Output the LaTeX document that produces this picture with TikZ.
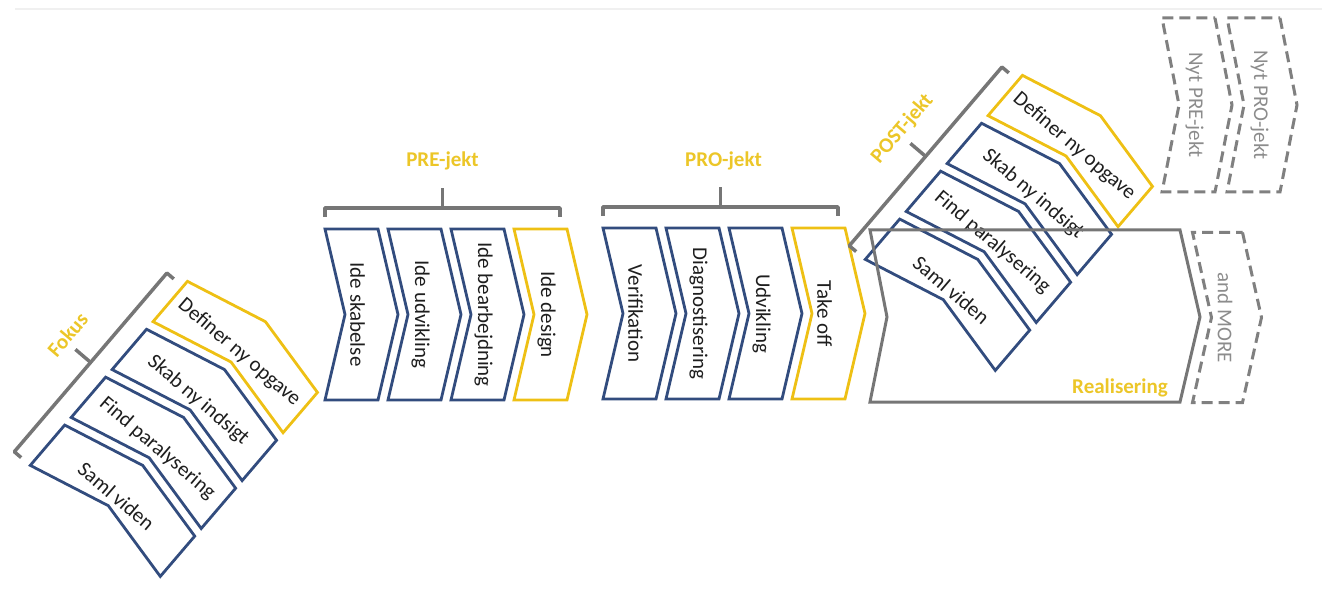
\documentclass[tikz,border=0pt]{standalone}
\usepackage{fontspec}
\setmainfont{Carlito}
\definecolor{cblue}{RGB}{50,76,126}
\definecolor{cyellow}{RGB}{238,192,20}
\definecolor{clabel}{RGB}{236,198,40}
\definecolor{cgray}{RGB}{118,118,118}
\definecolor{cdash}{RGB}{128,128,128}
\definecolor{cdtext}{RGB}{140,140,140}
\definecolor{ctext}{RGB}{30,30,30}
\tikzset{
  chevblue/.style={draw=cblue, line width=2.8pt},
  chevyellow/.style={draw=cyellow, line width=2.8pt},
  chevtext/.style={font=\fontsize{21}{25}\selectfont, text=ctext, inner sep=0pt},
  grouplabel/.style={font=\bfseries\fontsize{21}{25}\selectfont, text=clabel, inner sep=0pt},
  bracketline/.style={draw=cgray, line width=3.5pt, line join=round},
  realshape/.style={draw=cgray, line width=3pt},
  dashchev/.style={draw=cdash, line width=3pt, dash pattern=on 11pt off 6pt},
  dashtext/.style={font=\fontsize{21}{25}\selectfont, text=cdtext, inner sep=0pt},
}
% #1 style, #2 center, #3 angle, #4 half-length, #5 half-width ; protrusion \chP
\newcommand{\chevshape}[5]{%
  \draw[#1, shift={#2}, rotate=#3] (-#4,#5) -- (0,#5+\chP) -- (#4,#5) -- (#4,-#5) -- (0,-#5+\chP) -- (-#4,-#5) -- cycle;}
% #1 origin, #2 angle, #3 label, #4 name prefix, #5..#8 texts, #9 label position
\newcommand{\chevgroup}[9]{%
  \begin{scope}[shift={#1}, rotate=#2]
    \def\chP{20}
    \chevshape{chevblue}{(0,0)}{0}{85.5}{26.5}
    \node[chevtext, rotate=#2] (#4a) at (0,6) {#5};
    \chevshape{chevblue}{(0,63)}{0}{85.5}{26.5}
    \node[chevtext, rotate=#2] (#4b) at (0,69) {#6};
    \chevshape{chevblue}{(0,126)}{0}{85.5}{26.5}
    \node[chevtext, rotate=#2] (#4c) at (0,132) {#7};
    \chevshape{chevyellow}{(0,189)}{0}{85.5}{26.5}
    \node[chevtext, rotate=#2] (#4d) at (0,195) {#8};
    \draw[bracketline] (-97.5,-26.5) -- (-106.5,-26.5) -- (-106.5,208.5) -- (-97.5,208.5);
    \draw[bracketline] (-106.5,91) -- (-126.5,91);
    \node[grouplabel, rotate=#2+90] (#4l) at #9 {#3};
  \end{scope}}
\begin{document}
\begin{tikzpicture}[x=1pt, y=1pt]
\useasboundingbox (0,0) rectangle (1322,590);
\draw[black!6, line width=2pt] (15,581) -- (1322,581);

\chevgroup{(112.5,89.25)}{-40.5}{Fokus}{fok}{Saml viden}{Find paralysering}{Skab ny indsigt}{Definer ny opgave}{(-142,97)}
\chevgroup{(351.5,275.5)}{-90}{PRE-jekt}{pre}{Ide skabelse}{Ide udvikling}{Ide bearbejdning}{Ide design}{(-154,91)}
\chevgroup{(629.5,276.5)}{-90}{PRO-jekt}{pro}{Verifikation}{Diagnostisering}{Udvikling}{Take off}{(-153,94)}
\chevgroup{(947.5,295.25)}{-40.5}{POST-jekt}{post}{Saml viden}{Find paralysering}{Skab ny indsigt}{Definer ny opgave}{(-142,97)}

% Realisering
\draw[realshape] (870,360) -- (1180,360) -- (1200,273) -- (1180,188) -- (870,188) -- (887,273) -- cycle;
\node[grouplabel, anchor=base east] (real) at (1168,197) {Realisering};

% dashed future steps
\def\chP{17}
\chevshape{dashchev}{(1188.5,485)}{-90}{87}{26.5}
\node[dashtext, rotate=-90] (nytpre) at (1194.5,485) {Nyt PRE-jekt};
\chevshape{dashchev}{(1253.5,485)}{-90}{87}{26.5}
\node[dashtext, rotate=-90] (nytpro) at (1259.5,485) {Nyt PRO-jekt};
\def\chP{19}
\chevshape{dashchev}{(1217.5,272.5)}{-90}{85}{25}
\node[dashtext, rotate=-90] (more) at (1225,272.5) {and MORE};
\end{tikzpicture}
\end{document}
